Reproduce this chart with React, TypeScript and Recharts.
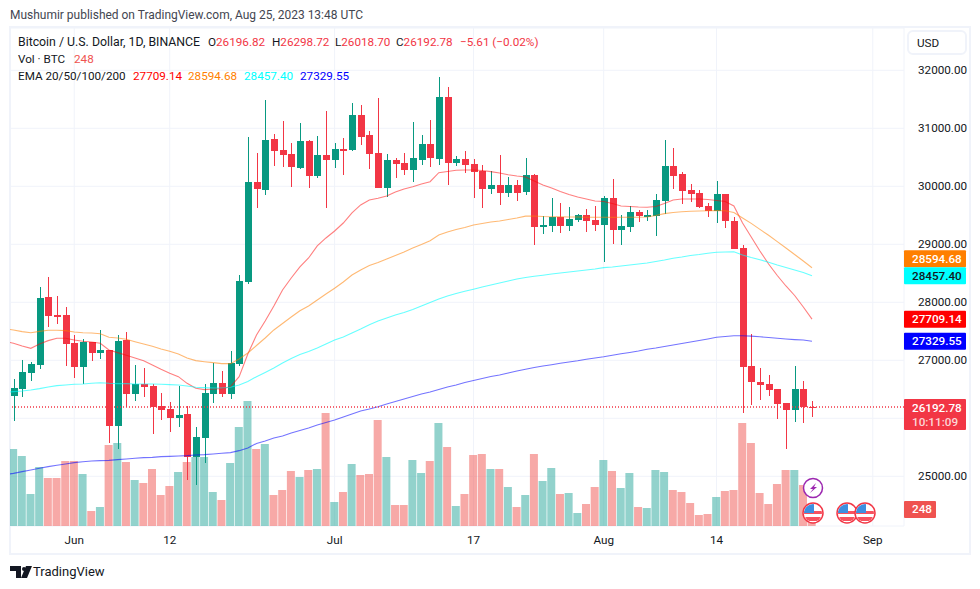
import {
  ComposedChart,
  Bar,
  Line,
  Cell,
  XAxis,
  YAxis,
  CartesianGrid,
  ReferenceLine,
} from "recharts";

const FONT = "Roboto, sans-serif";
const UP = "#089981";
const DOWN = "#f23645";
const TEXT = "#131722";

// May 25 -> Aug 25 2023, daily, 93 candles
const opens = [
  26385, 26505, 26781, 26919, 28091, 27781, 27781, 27298, 26884, 27316, 27126, 27178, 25867, 27350, 26419, 26591,
  26557, 26212, 26160, 26005, 26074, 25333, 25660, 26419, 26609, 26419, 26936, 28350, 30074, 29936, 30815, 30626,
  30557, 30315, 30781, 30177, 30539, 30453, 30643, 30626, 31229, 30884, 30574, 29971, 30453, 30402, 30281, 30453,
  30729, 30471, 31539, 30402, 30471, 30384, 30264, 29953, 30022, 29884, 30022, 29902, 30195, 29298, 29315, 29471,
  29315, 29419, 29505, 29419, 29333, 29798, 29246, 29298, 29557, 29488, 29488, 29746, 30350, 30212, 29936, 29885,
  29660, 29574, 29867, 29402, 28936, 26902, 26626, 26591, 26505, 26264, 26143, 26505, 26196.82,
];
const highs = [
  26678, 27005, 26971, 28264, 28436, 28109, 27919, 27436, 27367, 27316, 27522, 27178, 27436, 27488, 26919, 26867,
  26591, 26436, 26281, 26557, 26212, 25850, 26591, 26954, 26816, 27160, 28471, 30850, 30574, 31488, 30902, 31126,
  30746, 31091, 30798, 30867, 31298, 30746, 30833, 31436, 31402, 30953, 31522, 30557, 30488, 30574, 31108, 30884,
  31143, 31884, 31712, 30522, 30608, 30471, 30367, 30264, 30539, 30160, 30108, 30488, 30212, 29488, 29798, 29712,
  29643, 29522, 29608, 29660, 29833, 30126, 29505, 29660, 29591, 29591, 29867, 30798, 30660, 30247, 30040, 29936,
  29712, 30091, 29867, 29471, 28988, 27454, 26867, 26747, 26505, 26264, 26902, 26643, 26298.72,
];
const lows = [
  25954, 26367, 26643, 26850, 27574, 27626, 26902, 26695, 26591, 26988, 27023, 25574, 25471, 26195, 26298, 26367,
  25729, 25971, 25764, 25850, 24936, 24850, 25229, 26264, 26367, 26333, 26910, 28320, 29626, 29850, 30350, 30333,
  29988, 30298, 29971, 30143, 29626, 30315, 30195, 30608, 30712, 30298, 29965, 29815, 30143, 30195, 30074, 30367,
  30333, 30367, 30022, 30350, 30229, 29798, 29626, 29867, 29677, 29815, 29746, 29850, 28988, 29177, 29212, 29195,
  29229, 29384, 29212, 29229, 28695, 29005, 28988, 29212, 29384, 29402, 29143, 29522, 29953, 29695, 29729, 29626,
  29471, 29367, 29281, 28919, 26092, 26229, 26316, 26385, 25988, 25471, 25936, 25919, 26018.7,
];
const closes = [
  26522, 26798, 26936, 28074, 27764, 27764, 27281, 26884, 27316, 27126, 27178, 25867, 27333, 26419, 26591, 26540,
  26195, 26143, 26005, 26057, 25333, 25678, 26436, 26609, 26419, 26954, 28367, 30074, 29953, 30798, 30608, 30539,
  30333, 30781, 30177, 30539, 30453, 30643, 30626, 31229, 30850, 30557, 29971, 30453, 30384, 30281, 30488, 30729,
  30488, 31539, 30402, 30471, 30367, 30246, 29953, 30022, 29884, 30022, 29884, 30195, 29298, 29333, 29471, 29315,
  29436, 29505, 29402, 29333, 29798, 29246, 29315, 29557, 29488, 29505, 29764, 30350, 30177, 29919, 29867, 29643,
  29574, 29867, 29402, 28919, 26884, 26626, 26574, 26488, 26246, 26143, 26505, 26195, 26192.78,
];
const volumes = [
  1155, 1050, 480, 885, 720, 720, 975, 975, 780, 225, 285, 1215, 1245, 960, 690, 645, 855, 465, 600, 810, 960, 1035,
  1035, 510, 390, 945, 1485, 1875, 1155, 1230, 465, 540, 825, 735, 840, 855, 1695, 360, 510, 930, 765, 780, 1590,
  1035, 315, 315, 990, 795, 975, 1545, 1185, 300, 480, 1065, 1080, 855, 855, 585, 285, 465, 1080, 675, 870, 480, 495,
  195, 330, 585, 990, 825, 570, 795, 285, 270, 840, 810, 540, 510, 345, 165, 180, 435, 525, 540, 1545, 1245, 495, 330,
  630, 840, 840, 615, 248,
];

// EMA lines, the first value is the day before the first candle
const ema20 = [
  27325, 27293, 27247, 27206, 27281, 27339, 27379, 27379, 27350, 27327, 27316, 27293, 27178, 27132, 27086, 27040,
  26994, 26919, 26844, 26775, 26718, 26603, 26517, 26494, 26505, 26511, 26545, 26717, 27109, 27436, 27678, 27936,
  28212, 28419, 28609, 28764, 28971, 29109, 29229, 29367, 29540, 29678, 29764, 29793, 29833, 29902, 29954, 29993,
  30040, 30079, 30235, 30255, 30276, 30281, 30281, 30272, 30252, 30229, 30200, 30178, 30160, 30091, 30022, 29971,
  29910, 29859, 29816, 29781, 29747, 29738, 29703, 29660, 29652, 29643, 29638, 29652, 29703, 29764, 29781, 29781,
  29781, 29772, 29755, 29738, 29660, 29367, 29126, 28885, 28660, 28462, 28281, 28117, 27919, 27709.14,
];
const ema50 = [
  27545, 27522, 27494, 27476, 27499, 27517, 27517, 27511, 27488, 27476, 27471, 27459, 27396, 27385, 27362, 27321,
  27281, 27241, 27195, 27155, 27109, 27040, 26994, 26976, 26959, 26942, 26942, 27023, 27126, 27255, 27384, 27523,
  27634, 27747, 27855, 27936, 28039, 28143, 28242, 28350, 28471, 28557, 28635, 28686, 28747, 28807, 28867, 28936,
  28996, 29062, 29160, 29212, 29255, 29290, 29333, 29359, 29385, 29402, 29428, 29454, 29485, 29488, 29479, 29476,
  29474, 29471, 29471, 29467, 29466, 29466, 29464, 29466, 29466, 29467, 29471, 29497, 29528, 29549, 29562, 29569,
  29574, 29578, 29580, 29578, 29549, 29454, 29360, 29257, 29155, 29045, 28936, 28824, 28712, 28594.68,
];
const ema100 = [
  26447, 26459, 26471, 26488, 26511, 26540, 26563, 26574, 26586, 26591, 26603, 26614, 26603, 26597, 26597, 26591,
  26591, 26591, 26586, 26580, 26574, 26557, 26534, 26528, 26522, 26522, 26534, 26574, 26635, 26717, 26790, 26867,
  26954, 27031, 27100, 27152, 27212, 27281, 27350, 27402, 27471, 27540, 27614, 27678, 27730, 27782, 27824, 27876,
  27936, 27997, 28057, 28109, 28152, 28191, 28226, 28264, 28298, 28333, 28367, 28402, 28428, 28448, 28467, 28488,
  28505, 28522, 28540, 28557, 28574, 28597, 28608, 28626, 28643, 28660, 28678, 28703, 28729, 28759, 28781, 28807,
  28824, 28845, 28862, 28867, 28872, 28816, 28772, 28733, 28690, 28643, 28600, 28557, 28514, 28457.4,
];
const ema200 = [
  25030, 25051, 25080, 25109, 25138, 25166, 25189, 25212, 25235, 25252, 25264, 25270, 25275, 25287, 25298, 25310,
  25321, 25327, 25339, 25344, 25350, 25356, 25367, 25373, 25385, 25396, 25408, 25442, 25488, 25566, 25609, 25661,
  25695, 25747, 25790, 25833, 25885, 25928, 25971, 26023, 26075, 26126, 26160, 26200, 26247, 26290, 26333, 26376,
  26419, 26453, 26497, 26540, 26574, 26617, 26652, 26686, 26721, 26747, 26781, 26816, 26847, 26876, 26902, 26924,
  26948, 26971, 26993, 27019, 27040, 27062, 27088, 27112, 27135, 27160, 27190, 27212, 27238, 27264, 27290, 27316,
  27342, 27368, 27397, 27411, 27424, 27423, 27416, 27405, 27392, 27380, 27368, 27357, 27349, 27329.55,
];

const priceTicks = [25000, 26000, 27000, 28000, 29000, 30000, 31000, 32000];
const dateTicks = [7, 18, 37, 53, 68, 81, 99];
const dateLabels = ["Jun", "12", "Jul", "17", "Aug", "14", "Sep"];

const rows = ema20.map((_, i) => ({
  day: i - 1,
  open: i > 0 ? opens[i - 1] : null,
  high: i > 0 ? highs[i - 1] : null,
  low: i > 0 ? lows[i - 1] : null,
  close: i > 0 ? closes[i - 1] : null,
  volume: i > 0 ? volumes[i - 1] : null,
  ema20: ema20[i],
  ema50: ema50[i],
  ema100: ema100[i],
  ema200: ema200[i],
}));

const Candle = (props: any) => {
  const { x, y, width, height, payload } = props;
  if (payload.open == null) return null;
  const { open, high, low, close } = payload;
  const unit = height / (high - low);
  const yOf = (v: number) => y + (high - v) * unit;
  const color = close >= open ? UP : DOWN;
  const top = yOf(Math.max(open, close));
  const bottom = yOf(Math.min(open, close));
  const mid = Math.round(x + width / 2);
  return (
    <g shapeRendering="crispEdges">
      <rect x={mid - 0.5} y={y} width={1} height={height} fill={color} />
      <rect x={mid - 3.5} y={top} width={7} height={Math.max(bottom - top, 1.6)} fill={color} />
    </g>
  );
};

const Tag = (props: any) => {
  const { viewBox, text, sub, fill, color = "#fff", dy = 0, w = 62, h = 17 } = props;
  const cy = viewBox.y + dy;
  const left = viewBox.x + viewBox.width;
  return (
    <g fontFamily={FONT} fontSize={11.7} fontWeight={500}>
      <rect x={left} y={cy - h / 2} width={w} height={h} fill={fill} rx={1} />
      <text x={left + 8} y={sub ? cy - 3 : cy + 4} fill={color}>
        {text}
      </text>
      {sub && (
        <text x={left + 8} y={cy + 11} fill="#fcd5d8">
          {sub}
        </text>
      )}
    </g>
  );
};

const UsFlag = ({ cx }: { cx: number }) => (
  <g>
    <clipPath id={"flag" + cx}>
      <circle cx={cx} cy={513} r={9} />
    </clipPath>
    <circle cx={cx} cy={513} r={10} fill="#fff" stroke="#f23645" strokeWidth={1.5} />
    <g clipPath={`url(#flag${cx})`}>
      <rect x={cx - 10} y={511} width={20} height={3} fill="#f7525f" />
      <rect x={cx - 10} y={517} width={20} height={4} fill="#f7525f" />
      <rect x={cx - 10} y={504} width={11} height={9} fill="#3d8fe0" />
    </g>
  </g>
);

const Label = ({ left, top, color = TEXT, size, children }: any) => (
  <span style={{ position: "absolute", left, top, color, fontSize: size, whiteSpace: "nowrap" }}>{children}</span>
);

export default function App() {
  return (
    <div style={{ position: "absolute", left: 0, top: 0, width: 980, height: 589, background: "#fff", fontFamily: FONT, fontSize: 11.7, lineHeight: "16px" }}>
      <Label left={10} top={7} color="#434651" size={11.97}>
        Mushumir published on TradingView.com, Aug 25, 2023 13:48 UTC
      </Label>
      <div style={{ position: "absolute", left: 9, top: 26, width: 962, height: 529, boxSizing: "border-box", border: "2px solid #f0f3fa" }} />

      <ComposedChart
        width={980}
        height={589}
        data={rows}
        margin={{ top: 28, right: 10, bottom: 36, left: 10 }}
        style={{ position: "absolute", left: 0, top: 0 }}
      >
        <CartesianGrid stroke="#f0f3fa" strokeWidth={1} />
        <XAxis
          type="number"
          dataKey="day"
          domain={[-0.4, 102.6]}
          allowDataOverflow
          ticks={dateTicks}
          tickFormatter={(v: number) => dateLabels[dateTicks.indexOf(v)]}
          tick={{ fill: TEXT, fontSize: 11.7, fontFamily: FONT }}
          tickLine={false}
          axisLine={false}
          height={27}
          tickMargin={4}
          interval={0}
        />
        <XAxis xAxisId="vol" type="number" dataKey="day" domain={[-0.4, 102.6]} allowDataOverflow hide />
        <YAxis
          orientation="right"
          domain={[24143, 32729]}
          allowDataOverflow
          ticks={priceTicks}
          tickFormatter={(v: number) => (v === 26000 ? "" : v.toFixed(2))}
          tick={{ fill: TEXT, fontSize: 11.7, fontFamily: FONT }}
          tickLine={false}
          axisLine={false}
          width={66}
          tickMargin={8}
          interval={0}
        />
        <YAxis yAxisId="vol" domain={[0, 7470]} allowDataOverflow hide />

        <Bar xAxisId="vol" yAxisId="vol" dataKey="volume" barSize={8} isAnimationActive={false}>
          {rows.map((r) => (
            <Cell key={r.day} fill={r.close != null && r.close >= (r.open as number) ? "rgba(38,166,154,0.5)" : "rgba(239,83,80,0.5)"} />
          ))}
        </Bar>

        <Line dataKey="ema20" stroke="#ff0000" strokeOpacity={0.5} strokeWidth={1.1} dot={false} activeDot={false} isAnimationActive={false} />
        <Line dataKey="ema50" stroke="#ff7f00" strokeOpacity={0.55} strokeWidth={1.1} dot={false} activeDot={false} isAnimationActive={false} />
        <Line dataKey="ema100" stroke="#00ffff" strokeOpacity={0.6} strokeWidth={1.1} dot={false} activeDot={false} isAnimationActive={false} />
        <Line dataKey="ema200" stroke="#0000ff" strokeOpacity={0.55} strokeWidth={1.1} dot={false} activeDot={false} isAnimationActive={false} />

        <Bar
          dataKey={(r: any) => (r.low == null ? null : [r.low, r.high])}
          barSize={7}
          shape={<Candle />}
          isAnimationActive={false}
        />

        <ReferenceLine y={26192.78} stroke="#f23645" strokeWidth={1.5} strokeDasharray="1 2" label={<Tag text="26192.78" sub="10:11:09" fill={DOWN} h={31} dy={7.5} />} />
        <ReferenceLine y={28594.68} stroke="none" label={<Tag text="28594.68" fill="#ff7f00" dy={-9} />} />
        <ReferenceLine y={28457.4} stroke="none" label={<Tag text="28457.40" fill="#00ffff" color={TEXT} />} />
        <ReferenceLine y={27709.14} stroke="none" label={<Tag text="27709.14" fill="#ff0000" />} />
        <ReferenceLine y={27329.55} stroke="none" label={<Tag text="27329.55" fill="#0000ff" />} />
        <ReferenceLine yAxisId="vol" xAxisId="vol" y={248} stroke="none" label={<Tag text="248" fill="#ef5350" w={32} />} />
      </ComposedChart>

      {/* event markers */}
      <svg width={980} height={589} style={{ position: "absolute", left: 0, top: 0, pointerEvents: "none" }}>
        <circle cx={813} cy={488} r={9.5} fill="#fff" stroke="#9c27b0" strokeWidth={1.5} />
        <path d="M816 483 L810 489 L813 489 L810 493 L817 487 L814 487 Z" fill="#9c27b0" />
        <UsFlag cx={813} />
        <UsFlag cx={847} />
        <UsFlag cx={865} />
        <path d="M10 566 H21 V578 H16 V571 H10 Z" fill="#131722" />
        <circle cx={24} cy={569} r={2} fill="#131722" />
        <path d="M26 566 H32 L27 578 H21 Z" fill="#131722" />
      </svg>

      {/* legend rows */}
      <Label left={18} top={34} size={12.3}>Bitcoin / U.S. Dollar, 1D, BINANCE</Label>
      <Label left={208} top={34}>O<span style={{ color: DOWN }}>26196.82</span></Label>
      <Label left={272} top={34}>H<span style={{ color: DOWN }}>26298.72</span></Label>
      <Label left={335} top={34}>L<span style={{ color: DOWN }}>26018.70</span></Label>
      <Label left={396} top={34}>C<span style={{ color: DOWN }}>26192.78</span></Label>
      <Label left={460} top={34} color={DOWN}>−5.61 (−0.02%)</Label>
      <Label left={18} top={51}>Vol · BTC</Label>
      <Label left={74} top={51} color="#ef5350">248</Label>
      <Label left={18} top={68}>EMA 20/50/100/200</Label>
      <Label left={133} top={68} color="#ff0000">27709.14</Label>
      <Label left={188} top={68} color="#ff7f00">28594.68</Label>
      <Label left={244} top={68} color="#00ffff">28457.40</Label>
      <Label left={300} top={68} color="#0000ff">27329.55</Label>

      <div style={{ position: "absolute", left: 907, top: 30, width: 60, height: 25, boxSizing: "border-box", border: "2px solid #f0f3fa", borderRadius: 6, background: "#fff", paddingLeft: 8, paddingTop: 3, color: TEXT }}>USD</div>
      <span style={{ position: "absolute", left: 33, top: 564, fontSize: 13, fontWeight: 400, color: "#131722" }}>TradingView</span>
    </div>
  );
}
